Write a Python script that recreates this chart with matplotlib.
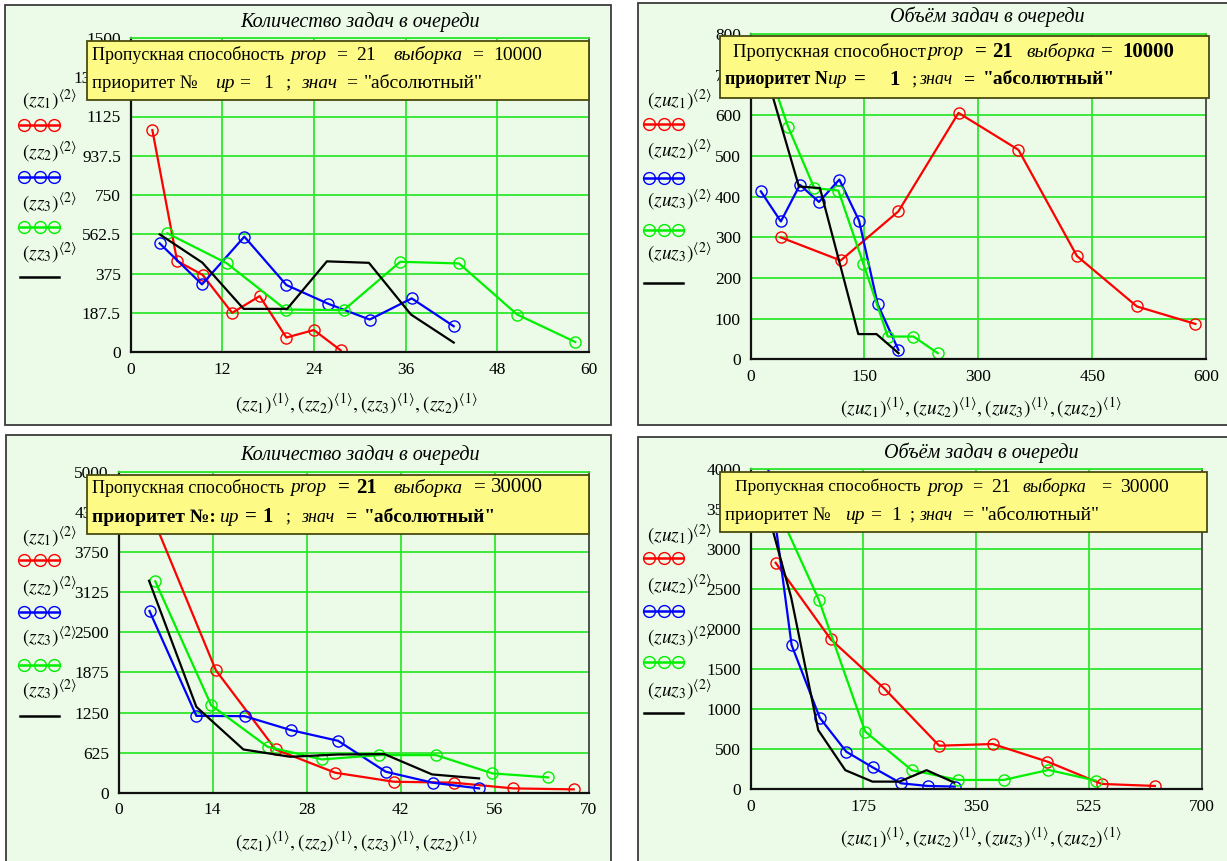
import numpy as np
import matplotlib
matplotlib.use('Agg')
import matplotlib.pyplot as plt
from matplotlib.patches import Rectangle
from matplotlib.lines import Line2D

plt.rcParams['font.family'] = ['Liberation Serif', 'DejaVu Serif']
plt.rcParams['mathtext.fontset'] = 'stix'

# ---- data ----
# top left: количество задач, выборка 10000
p1_x_zz1 = [2.86, 6.1, 9.45, 13.3, 16.9, 20.4, 24.0, 27.5]
p1_y_zz1 = [1060, 435, 368, 187, 267, 69, 105, 8]
p1_x_zz2 = [3.82, 9.36, 14.9, 20.4, 25.9, 31.3, 36.8, 42.3]
p1_y_zz2 = [519, 323, 551, 320, 230, 155, 256, 123]
p1_x_zz3 = [4.83, 12.6, 20.3, 27.9, 35.3, 43.0, 50.6, 58.2]
p1_y_zz3 = [567, 424, 203, 200, 431, 423, 179, 48]
p1_x_blk = [3.82, 9.4, 14.8, 20.5, 25.7, 31.2, 36.7, 42.3]
p1_y_blk = [562, 427, 206, 206, 433, 426, 179, 45]

# top right: объём задач, выборка 10000
p2_x_zz1 = [39.6, 118.8, 194.9, 274, 353, 430, 509, 586]
p2_y_zz1 = [300, 243, 364, 606, 515, 254, 130, 87]
p2_x_zz2 = [13.6, 40, 65.1, 90.2, 117, 143, 167.6, 194.9]
p2_y_zz2 = [413, 339, 429, 387, 442, 341, 135, 23]
p2_x_zz3 = [16.5, 49.7, 84, 115.7, 148.7, 180.8, 214.7, 246.8]
p2_y_zz3 = [752, 571, 421, 415, 235, 56, 56, 15]
p2_x_blk = [12, 63.8, 91.5, 142, 166, 195]
p2_y_blk = [757, 425, 421, 62, 62, 15]

# bottom left: количество задач, выборка 30000
p3_x_zz1 = [5.3, 14.5, 23.4, 32.3, 41.0, 49.9, 58.8, 67.8]
p3_y_zz1 = [4240, 1909, 674, 311, 171, 156, 67, 52]
p3_x_zz2 = [4.62, 11.6, 18.8, 25.7, 32.7, 39.8, 46.8, 53.7]
p3_y_zz2 = [2832, 1198, 1193, 975, 809, 327, 156, 67]
p3_x_zz3 = [5.48, 13.8, 22.2, 30.3, 38.8, 47.3, 55.7, 64.0]
p3_y_zz3 = [3295, 1364, 716, 519, 586, 586, 301, 239]
p3_x_blk = [4.55, 11.6, 18.6, 25.6, 32.6, 39.6, 46.7, 53.7]
p3_y_blk = [3305, 1338, 674, 560, 595, 602, 285, 223]

# bottom right: объём задач, выборка 30000
p4_x_zz1 = [39, 124.4, 207.7, 292.5, 375.7, 460, 544.5, 627]
p4_y_zz1 = [2832, 1875, 1258, 545, 566, 347, 67, 42]
p4_x_zz2 = [22, 63.7, 107.4, 148.5, 189.7, 233.4, 274.5, 316.6]
p4_y_zz2 = [4340, 1804, 894, 470, 273, 75, 42, 34]
p4_x_zz3 = [34, 105.9, 177.8, 250, 322, 392.6, 462, 535]
p4_y_zz3 = [3645, 2370, 722, 239, 117, 117, 242, 109]
p4_x_blk = [21, 63, 105, 147, 189, 231, 273, 316]
p4_y_blk = [3635, 2400, 740, 239, 96, 96, 239, 84]

titles = ['Количество задач в очереди', 'Объём задач в очереди',
          'Количество задач в очереди', 'Объём задач в очереди']
x_ticks = [np.arange(0, 61, 12), np.arange(0, 601, 150),
           np.arange(0, 71, 14), np.arange(0, 701, 175)]
y_ticks = [np.arange(0, 1501, 187.5), np.arange(0, 801, 100),
           np.arange(0, 5001, 625), np.arange(0, 4001, 500)]
var_names = ['zz', 'zuz', 'zz', 'zuz']

W, H = 1227, 861
BG = '#ebfbe7'
GRID = '#2fe62f'
CLR = ['#ff0000', '#0000ff', '#00f000', '#000000']


def fbox(x0, y0, x1, y1):
    return [x0 / W, 1 - y1 / H, (x1 - x0) / W, (y1 - y0) / H]


def ftext(fig, x, y, s, **kw):
    return fig.text(x / W, 1 - y / H, s, **kw)


def draw_legend(fig, x_txt, x0, x1, ylab, ylin, var):
    idx = ['1', '2', '3', '3']
    for i in range(4):
        ftext(fig, x_txt, ylab[i], r'$\left(%s_{%s}\right)^{\langle 2\rangle}$' % (var, idx[i]),
              ha='left', va='center', fontsize=14)
        yy = 1 - ylin[i] / H
        fig.add_artist(Line2D([x0 / W, x1 / W], [yy, yy], color=CLR[i], lw=1.8))
        if i < 3:
            xm = np.array([x0 + 4, (x0 + x1) / 2, x1 - 5]) / W
            fig.add_artist(Line2D(xm, [yy] * 3, ls='none', marker='o', ms=8.5,
                                  mfc='none', mec=CLR[i], mew=1.0))


def draw_note(fig, box, lines):
    x0, y0, x1, y1 = box
    fig.add_artist(Rectangle((x0 / W, 1 - y1 / H), (x1 - x0) / W, (y1 - y0) / H,
                             transform=fig.transFigure, facecolor='#fdfb86',
                             edgecolor='#4a4a10', lw=1.3, zorder=5))
    for y, pieces in lines:
        for p in pieces:
            x, s, st = p[0], p[1], p[2]
            fs = p[3] if len(p) > 3 else 13
            ftext(fig, x, y, s, ha='left', va='center', fontsize=fs, zorder=6,
                  style='italic' if 'i' in st else 'normal',
                  weight='bold' if 'b' in st else 'normal')


def plot_panel(fig, k, pos, series, frame, title_xy, xlab_xy):
    fig.add_artist(Rectangle((frame[0] / W, 1 - frame[3] / H),
                             (frame[2] - frame[0]) / W, (frame[3] - frame[1]) / H,
                             transform=fig.transFigure, facecolor=BG,
                             edgecolor='#3c3c3c', lw=1.3, zorder=-2))
    ax = fig.add_axes(fbox(*pos))
    ax.set_facecolor(BG)
    for i, (x, y) in enumerate(series):
        if i < 3:
            ax.plot(x, y, color=CLR[i], lw=1.6, marker='o', ms=8, mfc='none', mew=1.0)
        else:
            ax.plot(x, y, color=CLR[i], lw=1.6)
    xt, yt = x_ticks[k], y_ticks[k]
    ax.set_xlim(xt[0], xt[-1])
    ax.set_ylim(yt[0], yt[-1])
    ax.set_xticks(xt)
    ax.set_yticks(yt)
    ax.set_xticklabels(['%g' % v for v in xt])
    ax.set_yticklabels(['%g' % v for v in yt])
    ax.tick_params(length=0, labelsize=12.5, pad=7)
    ax.grid(color=GRID, lw=1.3)
    ax.set_axisbelow(True)
    for s in ['left', 'bottom']:
        ax.spines[s].set_color('#101010')
        ax.spines[s].set_linewidth(1.6)
    ax.spines['right'].set_color('#505050')
    ax.spines['right'].set_linewidth(1.4)
    ax.spines['top'].set_color(GRID)
    ax.spines['top'].set_linewidth(1.3)

    ftext(fig, title_xy[0], title_xy[1], titles[k], ha='center', va='center',
          fontsize=14.5, style='italic')
    v = var_names[k]
    xl = ','.join([r'\left(%s_{%s}\right)^{\langle 1\rangle}' % (v, j) for j in ['1', '2', '3', '2']])
    ftext(fig, xlab_xy[0], xlab_xy[1], '$' + xl + '$', ha='center', va='center', fontsize=14)
    return ax


def main():
    fig = plt.figure(figsize=(W / 100, H / 100), dpi=100)
    fig.patch.set_facecolor('white')

    s1 = [(p1_x_zz1, p1_y_zz1), (p1_x_zz2, p1_y_zz2), (p1_x_zz3, p1_y_zz3), (p1_x_blk, p1_y_blk)]
    s2 = [(p2_x_zz1, p2_y_zz1), (p2_x_zz2, p2_y_zz2), (p2_x_zz3, p2_y_zz3), (p2_x_blk, p2_y_blk)]
    s3 = [(p3_x_zz1, p3_y_zz1), (p3_x_zz2, p3_y_zz2), (p3_x_zz3, p3_y_zz3), (p3_x_blk, p3_y_blk)]
    s4 = [(p4_x_zz1, p4_y_zz1), (p4_x_zz2, p4_y_zz2), (p4_x_zz3, p4_y_zz3), (p4_x_blk, p4_y_blk)]

    plot_panel(fig, 0, (130.5, 38, 589, 352), s1, (5, 5, 611, 425), (360, 22), (356, 404))
    plot_panel(fig, 1, (750.5, 34, 1206, 359.3), s2, (637.5, 3.5, 1240, 425), (987, 17), (981, 408))
    plot_panel(fig, 2, (118.5, 472, 588.5, 792.7), s3, (5.5, 435, 611, 880), (360, 455), (356, 842))
    plot_panel(fig, 3, (750.5, 469.3, 1202, 789.3), s4, (637.5, 437, 1240, 880), (981, 453), (981, 838))

    draw_legend(fig, 22, 20, 59, [100, 152, 203, 253], [125, 177, 227, 277], 'zz')
    draw_legend(fig, 647, 644.5, 682.5, [100, 150, 200, 253], [124, 178, 230, 283], 'zuz')
    draw_legend(fig, 22, 20, 59, [537, 587, 637, 690], [560, 612, 665, 716], 'zz')
    draw_legend(fig, 647, 644.5, 682.5, [535, 585, 637, 690], [558, 611, 662, 713], 'zuz')

    draw_note(fig, (87, 41, 589, 100), [
        (55, [(92, 'Пропускная способность', 'n'), (290, 'prop', 'i', 14), (336, '=', 'n', 14),
              (356, '21', 'n', 14), (393, 'выборка', 'i', 14), (472, '=', 'n', 14),
              (493, '10000', 'n', 14)]),
        (83, [(92, 'приоритет №', 'n', 13.5), (215, 'up', 'i', 14), (239, '=', 'n', 14),
              (263, '1', 'n', 14), (285, ';', 'n', 14), (301, 'знач', 'i', 14), (346, '=', 'n', 14),
              (364, '"абсолютный"', 'n', 14)])])
    draw_note(fig, (720, 36, 1209, 98), [
        (52, [(733, 'Пропускная способност', 'n', 13.5), (927, 'prop', 'i', 14), (975, '=', 'b', 15),
              (992, '21', 'b', 15), (1026, 'выборка', 'i', 14), (1101, '=', 'n', 15),
              (1122, '10000', 'b', 15)]),
        (80, [(725, 'приоритет N', 'b', 13), (827, 'up', 'i', 14), (854, '=', 'b', 15),
              (889, '1', 'b', 15), (911, ';', 'n', 14), (919, 'знач', 'i', 13), (964, '=', 'b', 14),
              (983, '"абсолютный"', 'b', 14)])])
    draw_note(fig, (87, 475, 589, 534), [
        (488, [(92, 'Пропускная способность', 'n'), (290, 'prop', 'i', 14), (338, '=', 'b', 15),
               (356, '21', 'b', 15), (393, 'выборка', 'i', 14), (474, '=', 'n', 15),
               (491, '30000', 'n', 15)]),
        (517, [(92, 'приоритет №:', 'b', 14), (219, 'up', 'i', 14), (245, '=', 'b', 15),
               (262, '1', 'b', 15), (285, ';', 'n'), (301, 'знач', 'i'), (346, '=', 'b', 14),
               (364, '"абсолютный"', 'b', 14)])])
    draw_note(fig, (720, 472, 1207, 532), [
        (487, [(735, 'Пропускная способность', 'n', 12.5), (927, 'prop', 'i', 14), (972, '=', 'n'),
               (991, '21', 'n', 14), (1022, 'выборка', 'i'), (1101, '=', 'n'),
               (1120, '30000', 'n', 14)]),
        (515, [(725, 'приоритет №', 'n', 13.5), (845, 'up', 'i', 14), (870, '=', 'n', 14),
               (891, '1', 'n', 14), (909, ';', 'n'), (919, 'знач', 'i'), (962, '=', 'n', 14),
               (981, '"абсолютный"', 'n', 14)])])

    fig.savefig('out.png', dpi=100, facecolor='white')


if __name__ == "__main__":
    main()
